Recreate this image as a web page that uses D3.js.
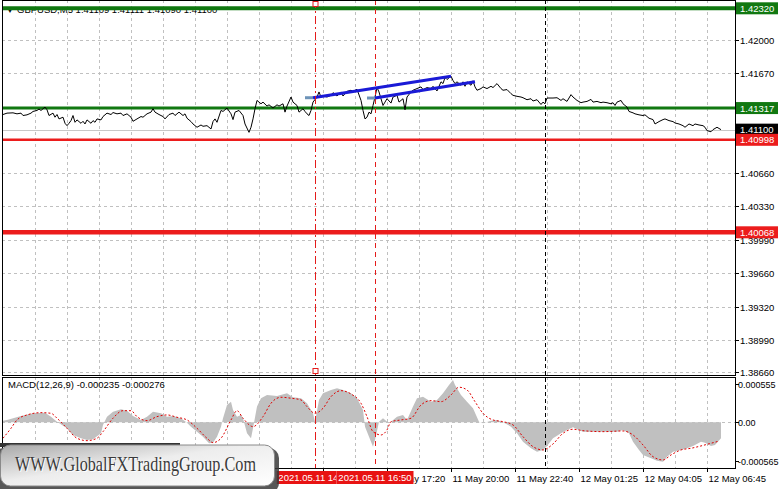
<!DOCTYPE html>
<html><head><meta charset="utf-8">
<script src="https://cdn.jsdelivr.net/npm/d3@7"></script>
<style>
html,body{margin:0;padding:0;background:#fff;overflow:hidden;}
svg{display:block;font-family:"Liberation Sans",Arial,sans-serif;}
</style></head><body>
<svg id="c" width="781" height="489"></svg>
<script>
// ---------------- DATA ----------------
const symbolTitle = "GBPUSD,M5  1.41109 1.41111 1.41090 1.41100";
const macdTitle = "MACD(12,26,9) -0.000235 -0.000276";

// M5 bar index (0 = first visible bar) and close price
const priceBars = [0,2,5,7,9,10,12,14,15,17,18,19,20,21,22,23,25,26,27,28,30,31,32,33,34,35,36,37,39,40,41,42,44,45,46,47,49,50,52,54,55,57,59,60,62,64,65,67,69,70,72,74,75,76,78,80,81,83,85,86,88,90,91,92,94,95,97,99,100,102,104,105,106,107,109,110,112,114,115,116,118,120,121,123,124,125,126,127,129,130,132,133,135,137,138,140,141,142,144,145,147,148,150,151,152,153,154,155,157,158,159,160,162,164,165,167,169,170,172,174,175,177,179,180,181,182,183,184,185,186,187,188,189,190,191,192,194,195,197,198,200,201,202,204,205,207,209,210,212,214,215,217,219,220,221,222,224,225,226,227,229,230,231,232,234,235,236,237,239,240,242,244,245,247,249,250,252,254,255,257,259,260,262,264,265,267,269,270,271,272,275,277,279,280,282,284,285,287,289,290,292,294,295,297,299,300,302,304,305,306,307,309,310,312,313,315,316,318,320,321,323,325,326,328,330,331,333,335,336,338,340,341,343,345,346,348,350,351,352,354,355,357,359];
const priceValues = [1.41252,1.41266,1.41269,1.41259,1.41266,1.41242,1.41249,1.41266,1.41283,1.41293,1.41307,1.41293,1.41310,1.41327,1.41300,1.41242,1.41266,1.41225,1.41252,1.41208,1.41225,1.41164,1.41140,1.41164,1.41191,1.41242,1.41174,1.41198,1.41164,1.41184,1.41157,1.41198,1.41164,1.41191,1.41174,1.41208,1.41198,1.41232,1.41266,1.41252,1.41272,1.41259,1.41266,1.41242,1.41259,1.41225,1.41184,1.41208,1.41232,1.41225,1.41259,1.41276,1.41310,1.41276,1.41252,1.41232,1.41208,1.41252,1.41266,1.41242,1.41276,1.41242,1.41259,1.41215,1.41181,1.41157,1.41124,1.41147,1.41134,1.41140,1.41107,1.41181,1.41208,1.41174,1.41293,1.41283,1.41317,1.41259,1.41201,1.41276,1.41293,1.41242,1.41157,1.41073,1.41124,1.41208,1.41310,1.41394,1.41360,1.41377,1.41337,1.41350,1.41317,1.41350,1.41337,1.41360,1.41276,1.41337,1.41428,1.41377,1.41343,1.41276,1.41310,1.41283,1.41259,1.41242,1.41293,1.41377,1.41428,1.41479,1.41428,1.41438,1.41428,1.41445,1.41472,1.41438,1.41479,1.41438,1.41485,1.41496,1.41485,1.41506,1.41394,1.41293,1.41208,1.41225,1.41276,1.41259,1.41343,1.41428,1.41523,1.41479,1.41411,1.41343,1.41377,1.41411,1.41367,1.41428,1.41445,1.41377,1.41411,1.41300,1.41428,1.41479,1.41496,1.41513,1.41530,1.41503,1.41523,1.41513,1.41536,1.41489,1.41581,1.41563,1.41624,1.41604,1.41638,1.41594,1.41563,1.41581,1.41546,1.41581,1.41536,1.41581,1.41546,1.41591,1.41530,1.41496,1.41513,1.41530,1.41513,1.41536,1.41523,1.41563,1.41513,1.41496,1.41503,1.41462,1.41445,1.41435,1.41428,1.41421,1.41401,1.41411,1.41388,1.41401,1.41353,1.41377,1.41360,1.41418,1.41418,1.41421,1.41394,1.41411,1.41384,1.41452,1.41428,1.41394,1.41371,1.41377,1.41384,1.41404,1.41377,1.41384,1.41371,1.41377,1.41371,1.41360,1.41371,1.41343,1.41377,1.41394,1.41360,1.41327,1.41283,1.41269,1.41259,1.41249,1.41242,1.41249,1.41215,1.41201,1.41157,1.41181,1.41201,1.41208,1.41191,1.41181,1.41167,1.41157,1.41140,1.41124,1.41157,1.41140,1.41157,1.41147,1.41140,1.41124,1.41090,1.41079,1.41100,1.41124,1.41100];

const priceTickValues = [1.42000,1.41670,1.41330,1.41000,1.40660,1.40330,1.39990,1.39660,1.39320,1.38990,1.38660];
const priceTickLabels = ["1.42000","1.41670","1.41330","1.41000","1.40660","1.40330","1.39990","1.39660","1.39320","1.38990","1.38660"];

const levelValues = [1.42320, 1.41317, 1.40998, 1.40068];
const levelLabels = ["1.42320","1.41317","1.40998","1.40068"];
const currentPrice = 1.41100;
const currentLabel = "1.41100";

const gridBars = [16,32,48,64,80,96,112,128,144,160,176,192,208,224,240,256,272,288,304,320,336,352];
const tickBars = [0,32,64,96,128,160,192,224,256,288,320,352];
const timeLabelBars = [192,224,256,288,320,352];
const timeLabels = ["11 May 17:20","11 May 20:00","11 May 22:40","12 May 01:25","12 May 04:05","12 May 06:45"];

const eventBars = [156, 186];
const eventLabels = ["2021.05.11 14:20", "2021.05.11 16:50"];
const sessionBar = 271;

const channelUpper = [[155, 1.41421], [224, 1.41636]];
const channelLower = [[186, 1.41418], [236, 1.41582]];

const histBars = [0,2,9,15,21,24,27,32,35,39,42,45,49,50,52,55,59,62,65,69,72,75,79,82,85,89,92,94,97,100,103,105,107,109,110,112,114,115,117,119,120,122,124,125,127,129,132,137,142,145,149,152,155,156,158,160,164,167,170,174,177,180,181,183,185,186,188,190,193,194,197,200,202,205,207,210,214,217,220,223,225,226,229,232,235,238,240,244,247,250,254,257,260,264,267,270,272,275,279,282,285,287,290,297,304,307,310,313,315,318,320,324,327,330,332,335,339,342,345,349,351,354,356,359];
const histValues = [0.000020,0.000032,0.000090,0.000129,0.000138,0.000080,0.000007,-0.000089,-0.000186,-0.000234,-0.000259,-0.000249,-0.000162,-0.000041,0.000080,0.000153,0.000188,0.000167,0.000090,0.000032,0.000080,0.000153,0.000129,0.000080,0.000090,0.000057,-0.000007,-0.000065,-0.000138,-0.000211,-0.000307,-0.000298,-0.000211,-0.000065,0.000057,0.000250,0.000298,0.000178,0.000080,0.000105,0.000057,-0.000162,-0.000234,-0.000089,0.000226,0.000348,0.000396,0.000381,0.000420,0.000362,0.000348,0.000275,0.000129,0.000007,0.000323,0.000420,0.000469,0.000493,0.000469,0.000420,0.000348,0.000178,-0.000065,-0.000211,-0.000356,-0.000259,0.000007,0.000057,-0.000016,0.000007,0.000080,0.000105,0.000032,0.000226,0.000348,0.000371,0.000298,0.000323,0.000420,0.000541,0.000614,0.000541,0.000396,0.000298,0.000202,0.000007,-0.000016,0.000022,0.000032,-0.000001,-0.000065,-0.000162,-0.000284,-0.000380,-0.000429,-0.000404,-0.000346,-0.000234,-0.000162,-0.000113,-0.000074,-0.000103,-0.000138,-0.000138,-0.000138,-0.000138,-0.000113,-0.000162,-0.000284,-0.000404,-0.000477,-0.000525,-0.000560,-0.000575,-0.000502,-0.000429,-0.000404,-0.000380,-0.000346,-0.000284,-0.000298,-0.000346,-0.000332,-0.000235];

const signalBars = [0,4,7,12,19,24,27,32,37,42,47,50,55,60,64,67,72,77,82,87,92,97,102,105,109,114,117,120,125,130,134,139,144,149,152,156,160,164,169,174,179,182,185,189,192,194,199,204,209,214,219,224,228,232,236,240,245,250,255,260,265,270,275,280,285,290,300,310,315,320,325,330,334,339,344,349,354,358];
const signalValues = [-0.000234,-0.000089,0.000032,0.000105,0.000138,0.000129,0.000057,-0.000089,-0.000234,-0.000269,-0.000234,-0.000138,0.000057,0.000167,0.000167,0.000080,0.000022,0.000080,0.000105,0.000071,0.000032,-0.000089,-0.000234,-0.000298,-0.000234,0.000032,0.000167,0.000057,-0.000065,0.000080,0.000275,0.000362,0.000348,0.000323,0.000226,0.000129,0.000202,0.000371,0.000458,0.000410,0.000275,0.000080,-0.000138,-0.000186,-0.000113,0.000007,0.000032,0.000057,0.000250,0.000313,0.000298,0.000396,0.000508,0.000469,0.000298,0.000129,0.000032,0.000007,-0.000041,-0.000211,-0.000356,-0.000404,-0.000317,-0.000162,-0.000103,-0.000124,-0.000138,-0.000128,-0.000186,-0.000332,-0.000502,-0.000550,-0.000477,-0.000404,-0.000380,-0.000346,-0.000307,-0.000276];

const macdTickValues = [0.000555, 0, -0.000565];
const macdTickLabels = ["0.000555", "0.00", "-0.000565"];

const logoText = "WWW.GlobalFXTradingGroup.Com";

// ---------------- DRAWING ----------------
const svg = d3.select("#c");
const W = 781, H = 489;
const L = 2, R = 735, mainTop = 0, mainBot = 375, macTop = 377, macBot = 468;
const FS = 9.5;

const x = d3.scaleLinear().domain([0, 366]).range([3, 735]);
const y = d3.scaleLinear().domain([1.40068, 1.42320]).range([232.3, 8.3]);
const ym = d3.scaleLinear().domain([-0.000565, 0.000555]).range([461, 384]);

svg.append("rect").attr("width", W).attr("height", H).attr("fill", "#fff");

const defs = svg.append("defs");
defs.append("clipPath").attr("id", "clipMain").append("rect")
  .attr("x", L).attr("y", mainTop).attr("width", R - L).attr("height", mainBot - mainTop);
defs.append("clipPath").attr("id", "clipMacd").append("rect")
  .attr("x", L).attr("y", macTop).attr("width", R - L).attr("height", macBot - macTop);

const gridCol = "#c0c0c0";
const main = svg.append("g").attr("clip-path", "url(#clipMain)");
const mac = svg.append("g").attr("clip-path", "url(#clipMacd)");

// vertical grid
gridBars.forEach(b => {
  const xx = Math.round(x(b)) + 0.5;
  main.append("line").attr("x1", xx).attr("x2", xx).attr("y1", mainTop).attr("y2", mainBot)
    .attr("stroke", gridCol).attr("stroke-dasharray", "3,3");
  mac.append("line").attr("x1", xx).attr("x2", xx).attr("y1", macTop).attr("y2", macBot)
    .attr("stroke", gridCol).attr("stroke-dasharray", "3,3");
});
// horizontal grid main
priceTickValues.forEach(v => {
  const yy = Math.round(y(v)) + 0.5;
  main.append("line").attr("x1", L).attr("x2", R).attr("y1", yy).attr("y2", yy)
    .attr("stroke", gridCol).attr("stroke-dasharray", "3,3");
});
{
  const yy = Math.round(ym(0)) + 0.5;
  mac.append("line").attr("x1", L).attr("x2", R).attr("y1", yy).attr("y2", yy)
    .attr("stroke", gridCol).attr("stroke-dasharray", "3,3");
}

// title (drawn under the level line, as in the terminal)
main.append("text").attr("x", 6).attr("y", 12.5).attr("font-size", 8).attr("fill", "#000").text("▼");
main.append("text").attr("x", 17).attr("y", 13).attr("font-size", FS).attr("fill", "#000").text(symbolTitle);

// current price line
main.append("line").attr("x1", L).attr("x2", R)
  .attr("y1", Math.round(y(currentPrice)) + 0.5).attr("y2", Math.round(y(currentPrice)) + 0.5)
  .attr("stroke", "#c8c8c8").attr("stroke-width", 1);

// horizontal levels
const levelColors = ["#117811", "#117811", "#ec1c1c", "#ec1c1c"];
const levelWidths = [4, 3, 2.5, 4.5];
levelValues.forEach((v, i) => {
  main.append("line").attr("x1", L).attr("x2", R).attr("y1", y(v)).attr("y2", y(v))
    .attr("stroke", levelColors[i]).attr("stroke-width", levelWidths[i]);
});

// price line
const pts = priceBars.map((b, i) => [b, priceValues[i]]);
main.append("path").datum(pts)
  .attr("d", d3.line().x(d => x(d[0])).y(d => y(d[1])))
  .attr("fill", "none").attr("stroke", "#000").attr("stroke-width", 1);

// channel lines
[channelUpper, channelLower].forEach(c => {
  main.append("line").attr("x1", x(c[0][0]) - 8).attr("x2", x(c[0][0]))
    .attr("y1", y(c[0][1])).attr("y2", y(c[0][1]))
    .attr("stroke", "#6d93b8").attr("stroke-width", 3);
  main.append("line").attr("x1", x(c[0][0])).attr("y1", y(c[0][1]))
    .attr("x2", x(c[1][0])).attr("y2", y(c[1][1]))
    .attr("stroke", "#1a1ad6").attr("stroke-width", 3);
});

// MACD histogram and signal
const hist = histBars.map((b, i) => [b, histValues[i]]);
mac.append("path").datum(hist)
  .attr("d", d3.area().x(d => x(d[0])).y0(ym(0)).y1(d => ym(d[1])))
  .attr("fill", "#c0c0c0");
const sig = signalBars.map((b, i) => [b, signalValues[i]]);
mac.append("path").datum(sig)
  .attr("d", d3.line().curve(d3.curveMonotoneX).x(d => x(d[0])).y(d => ym(d[1])))
  .attr("fill", "none").attr("stroke", "#e00000").attr("stroke-width", 1).attr("stroke-dasharray", "2,2");

mac.append("text").attr("x", 8).attr("y", 388).attr("font-size", FS).attr("fill", "#000").text(macdTitle);

// vertical event lines
const evDash = ["8,3,2,3", "5,4"];
eventBars.forEach((b, i) => {
  const xx = Math.round(x(b)) + 0.5;
  svg.append("line").attr("x1", xx).attr("x2", xx).attr("y1", 0).attr("y2", macBot)
    .attr("stroke", "#e41b1b").attr("stroke-dasharray", evDash[i]);
});
{
  const xx = Math.round(x(eventBars[0])) + 0.5;
  svg.append("rect").attr("x", xx - 2.5).attr("y", 1.5).attr("width", 5).attr("height", 5)
    .attr("fill", "#fff").attr("stroke", "#e41b1b");
  svg.append("rect").attr("x", xx - 2.5).attr("y", 368.5).attr("width", 5).attr("height", 5)
    .attr("fill", "#fff").attr("stroke", "#e41b1b");
}
{
  const xx = Math.round(x(sessionBar)) + 0.5;
  svg.append("line").attr("x1", xx).attr("x2", xx).attr("y1", 0).attr("y2", macBot)
    .attr("stroke", "#000").attr("stroke-dasharray", "4,3");
}

// frames
svg.append("rect").attr("x", L + 0.5).attr("y", 0.5).attr("width", R - L).attr("height", mainBot)
  .attr("fill", "none").attr("stroke", "#000");
svg.append("rect").attr("x", L + 0.5).attr("y", macTop + 0.5).attr("width", R - L).attr("height", macBot - macTop)
  .attr("fill", "none").attr("stroke", "#000");

// right axis tick labels (labels fully covered by a level box are not printed, as in the terminal)
const boxedValues = levelValues.concat([currentPrice]);
priceTickValues.forEach((v, i) => {
  const yy = Math.round(y(v)) + 0.5;
  svg.append("line").attr("x1", R).attr("x2", R + 4).attr("y1", yy).attr("y2", yy).attr("stroke", "#000");
  const covered = boxedValues.some(bv => Math.abs(y(bv) - y(v)) < 5);
  if (!covered) {
    svg.append("text").attr("x", 740).attr("y", yy + 3.5).attr("font-size", FS).attr("fill", "#000").text(priceTickLabels[i]);
  }
});
macdTickValues.forEach((v, i) => {
  const yy = Math.round(ym(v)) + 0.5;
  svg.append("line").attr("x1", R).attr("x2", R + 4).attr("y1", yy).attr("y2", yy).attr("stroke", "#000");
  svg.append("text").attr("x", 738).attr("y", yy + 3.5).attr("font-size", 9).attr("fill", "#000").text(macdTickLabels[i]);
});

// label boxes on axis
function axisBox(v, label, bg) {
  const yy = y(v);
  svg.append("rect").attr("x", 736).attr("y", yy - 6).attr("width", 42).attr("height", 12).attr("fill", bg);
  svg.append("text").attr("x", 740).attr("y", yy + 3.5).attr("font-size", FS).attr("fill", "#fff").text(label);
}
const boxColors = ["#117811", "#117811", "#ec1c1c", "#ec1c1c"];
axisBox(levelValues[0], levelLabels[0], boxColors[0]);
axisBox(levelValues[1], levelLabels[1], boxColors[1]);
axisBox(currentPrice, currentLabel, "#000");
axisBox(levelValues[2], levelLabels[2], boxColors[2]);
axisBox(levelValues[3], levelLabels[3], boxColors[3]);

// bottom time axis
tickBars.forEach(b => {
  const xx = Math.round(x(b)) + 0.5;
  svg.append("line").attr("x1", xx).attr("x2", xx).attr("y1", macBot).attr("y2", macBot + 4).attr("stroke", "#000");
});
const evBoxW = 77;
const lastEventRight = x(eventBars[eventBars.length - 1]) + evBoxW / 2;
defs.append("clipPath").attr("id", "clipAfterBox").append("rect")
  .attr("x", lastEventRight).attr("y", 468).attr("width", W).attr("height", 21);
timeLabelBars.forEach((b, i) => {
  const xx = Math.round(x(b)) + 0.5;
  const t = svg.append("text").attr("x", xx + 1).attr("y", 481.5).attr("font-size", FS).attr("fill", "#000").text(timeLabels[i]);
  if (x(b) < lastEventRight) t.attr("clip-path", "url(#clipAfterBox)");
});
eventBars.forEach((b, i) => {
  const xx = x(b);
  const g = svg.append("g");
  if (i < eventBars.length - 1) {
    const id = "clipEv" + i;
    defs.append("clipPath").attr("id", id).append("rect")
      .attr("x", xx - evBoxW / 2).attr("y", 468).attr("width", x(eventBars[i + 1]) - xx).attr("height", 21);
    g.attr("clip-path", "url(#" + id + ")");
  }
  g.append("rect").attr("x", xx - evBoxW / 2).attr("y", 471).attr("width", evBoxW).attr("height", 13).attr("fill", "#e81313");
  g.append("text").attr("x", xx).attr("y", 481).attr("text-anchor", "middle").attr("font-size", FS)
    .attr("fill", "#fff").text(eventLabels[i]);
});

// logo
const lg = defs.append("linearGradient").attr("id", "lgGrad").attr("x1", 0).attr("y1", 0).attr("x2", 1).attr("y2", 1);
lg.append("stop").attr("offset", "0%").attr("stop-color", "#a8a8a8");
lg.append("stop").attr("offset", "45%").attr("stop-color", "#ededed");
lg.append("stop").attr("offset", "100%").attr("stop-color", "#ffffff");
svg.append("rect").attr("x", -10).attr("y", 443).attr("width", 190).attr("height", 4).attr("fill", "#333");
svg.append("rect").attr("x", -6).attr("y", 448).attr("width", 285).attr("height", 45).attr("rx", 10)
  .attr("fill", "#3a3a3a").attr("opacity", 0.85);
svg.append("rect").attr("x", 0.5).attr("y", 445).attr("width", 274).attr("height", 41).attr("rx", 10)
  .attr("fill", "url(#lgGrad)").attr("stroke", "#8a8a8a");
svg.append("text").attr("x", 16).attr("y", 472).attr("font-family", "'Liberation Serif','Times New Roman',serif")
  .attr("font-size", 21).attr("fill", "#fff").attr("textLength", 241).attr("lengthAdjust", "spacingAndGlyphs")
  .text(logoText);
svg.append("text").attr("x", 15).attr("y", 471).attr("font-family", "'Liberation Serif','Times New Roman',serif")
  .attr("font-size", 21).attr("fill", "#3b3b3b").attr("textLength", 241).attr("lengthAdjust", "spacingAndGlyphs")
  .text(logoText);
</script>
</body></html>
